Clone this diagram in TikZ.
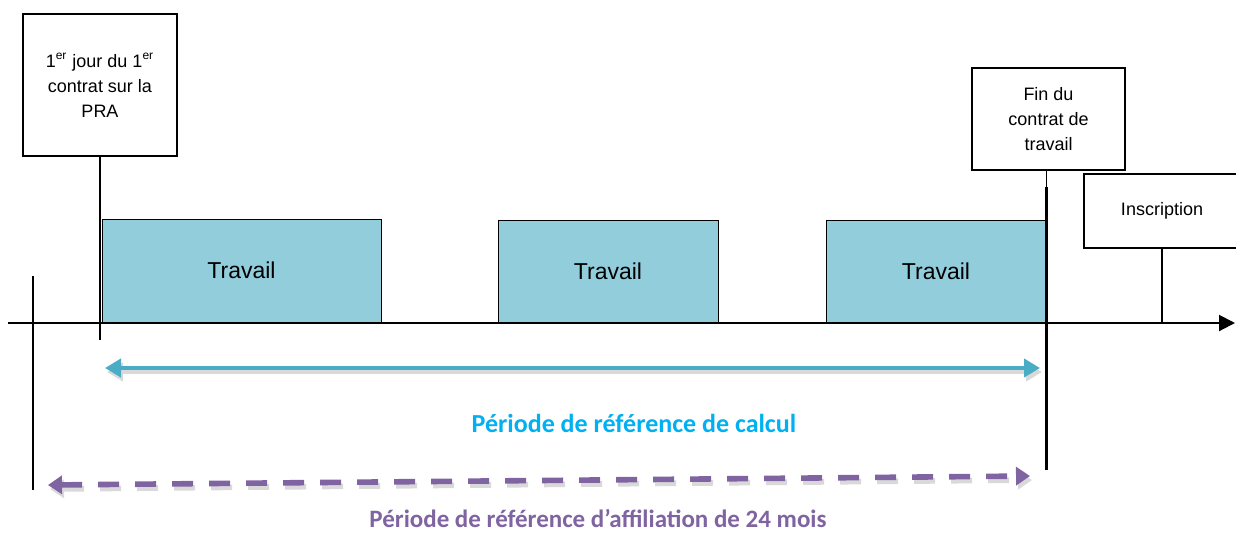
\documentclass[tikz,border=0pt]{standalone}
\usepackage{fontspec}
\setmainfont{Liberation Sans}
\newfontfamily\calibri{Carlito}
\usetikzlibrary{arrows.meta}
\definecolor{travailfill}{HTML}{92CDDC}
\definecolor{calculcol}{HTML}{4BACC6}
\definecolor{calcultext}{HTML}{00B0F0}
\definecolor{affilcol}{HTML}{8064A2}
\tikzset{
  evtbox/.style={draw, line width=0.6pt, fill=white, align=center, font=\fontsize{9}{12.5}\selectfont},
  travbox/.style={draw, line width=0.5pt, fill=travailfill, font=\fontsize{11.5}{14}\selectfont},
  period/.style={font=\calibri\bfseries\fontsize{13}{15}\selectfont},
}
\begin{document}
\begin{tikzpicture}[x=0.5pt,y=-0.5pt]
\useasboundingbox (0,0) rectangle (1236,532);
%% nodes
\node[evtbox, line width=1pt, minimum width=77pt, minimum height=71pt] (PRA) at (100,85)
  {1\textsuperscript{er} jour du 1\textsuperscript{er}\\contrat sur la\\PRA};
\node[evtbox, minimum width=76.5pt, minimum height=51pt] (Fin) at (1048.5,119)
  {Fin du\\contrat de\\travail};
\node[evtbox, minimum width=78pt, minimum height=37pt] (Ins) at (1162,211) {Inscription};
\node[travbox, minimum width=139.5pt, minimum height=51.5pt] (T1) at (241.5,270.5) {Travail};
\node[travbox, minimum width=110pt, minimum height=51pt] (T2) at (608,271) {Travail};
\node[travbox, minimum width=110pt, minimum height=51pt] (T3) at (936,271) {Travail};
\node[period, text=calcultext] (calcul) at (634,423) {Période de référence de calcul};
\node[period, font=\calibri\bfseries\fontsize{12.5}{15}\selectfont, text=affilcol] (affil) at (598,518)
  {Période de référence d’affiliation de 24 mois};
%% points
\coordinate (axL) at (8,323);
\coordinate (axR) at (1235,323);
\coordinate (praEnd) at (100,340);
\coordinate (t0top) at (33,276);
\coordinate (t0bot) at (33,490);
\coordinate (finTop) at (1046.5,187);
\coordinate (finBot) at (1046.5,470);
\coordinate (insEnd) at (1162,323);
\coordinate (calL) at (105,368);
\coordinate (calR) at (1040,368);
\coordinate (affL) at (48,485);
\coordinate (affR) at (1030,476);
%%% edges
\draw[line width=1pt, -{Triangle[length=8pt,width=8pt]}] (axL) -- (axR);
\draw[line width=1pt] (PRA.south) -- (praEnd);
\draw[line width=1pt] (t0top) -- (t0bot);
\draw[line width=0.6pt] (Fin.south -| finTop) -- (finTop);
\draw[line width=1.5pt] (finTop) -- (finBot);
\draw[line width=0.6pt] (Ins.south) -- (insEnd);
% shadows
\draw[black!15, line width=2pt, {Triangle[length=8pt,width=9pt]}-{Triangle[length=8pt,width=9pt]}]
  ([shift={(2,4)}]calL) -- ([shift={(2,4)}]calR);
\draw[black!15, line width=2.8pt, dash pattern=on 10.5pt off 8pt, {Triangle[length=7pt,width=9pt]}-{Triangle[length=7pt,width=9pt]}]
  ([shift={(2,4)}]affL) -- ([shift={(2,4)}]affR);
% periods
\draw[calculcol, line width=2pt, {Triangle[length=8pt,width=9pt]}-{Triangle[length=8pt,width=9pt]}] (calL) -- (calR);
\draw[affilcol, line width=2.8pt, dash pattern=on 10.5pt off 8pt, {Triangle[length=7pt,width=9pt]}-{Triangle[length=7pt,width=9pt]}] (affL) -- (affR);
\end{tikzpicture}
\end{document}
